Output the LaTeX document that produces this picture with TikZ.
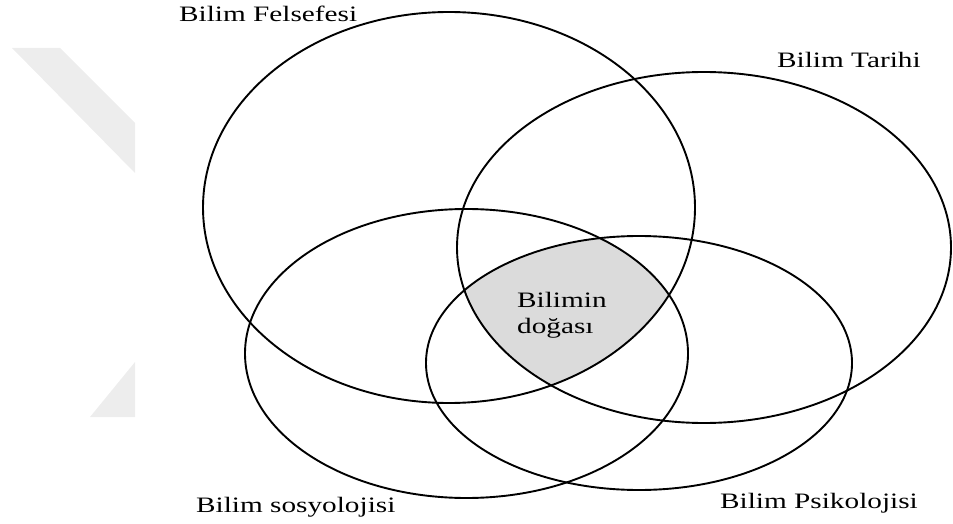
\documentclass[tikz,border=0pt]{standalone}
\usepackage{fontspec}
\setmainfont{Liberation Serif}
\usepackage{graphicx}
\newcommand{\sxt}[1]{\scalebox{1.33}[1]{#1}}
\begin{document}
\begin{tikzpicture}[x=1pt,y=-1pt,
  ring/.style={draw=black,line width=1.9pt},
  lbl/.style={inner sep=0pt,anchor=base west,font=\fontsize{22}{26}\selectfont,text=black}]
\useasboundingbox (0,0) rectangle (953,524);
% faint watermark
\fill[black!7] (12,48) -- (60,48) -- (135,123) -- (135,173) -- cycle;
\fill[black!7] (90,417) -- (135,417) -- (135,362) -- cycle;
% centres
\coordinate (c1) at (449,207.5);
\coordinate (c2) at (704,247.5);
\coordinate (c3) at (466.5,353.5);
\coordinate (c4) at (639,363);
% shaded core
\begin{scope}
  \clip (c1) ellipse [x radius=246, y radius=195.5];
  \clip (c2) ellipse [x radius=247, y radius=175.5];
  \clip (c3) ellipse [x radius=221.5, y radius=144.5];
  \clip (c4) ellipse [x radius=213, y radius=127];
  \fill[black!14] (400,200) rectangle (720,420);
\end{scope}
% ellipses
\draw[ring] (c1) ellipse [x radius=246, y radius=195.5];
\draw[ring] (c2) ellipse [x radius=247, y radius=175.5];
\draw[ring] (c3) ellipse [x radius=221.5, y radius=144.5];
\draw[ring] (c4) ellipse [x radius=213, y radius=127];
% labels
\node[lbl] (fel) at (179,22) {\sxt{Bilim Felsefesi}};
\node[lbl] (tar) at (777,68) {\sxt{Bilim Tarihi}};
\node[lbl] (sos) at (196,512) {\sxt{Bilim sosyolojisi}};
\node[lbl] (psi) at (720,508) {\sxt{Bilim Psikolojisi}};
\node[lbl] (bil) at (517,307) {\sxt{Bilimin}};
\node[lbl] (dog) at (517,333) {\sxt{doğası}};
\end{tikzpicture}
\end{document}
